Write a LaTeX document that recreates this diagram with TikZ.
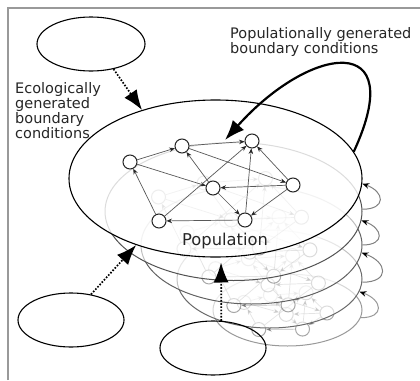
\documentclass[tikz,border=0pt]{standalone}
\usepackage{fontspec}
\setmainfont{DejaVu Sans}
\usetikzlibrary{arrows.meta,shapes.geometric}

\tikzset{
  netnode/.style={circle, draw=black!85, fill=white, minimum size=14pt, inner sep=0pt, line width=1pt},
  netedge/.style={draw=black!65, line width=0.7pt, -{Stealth[length=5.5pt,width=4.5pt,black!85]}},
  layerell/.style={ellipse, fill=white, fill opacity=0.6, line width=1pt, inner sep=0pt},
  bigell/.style={ellipse, draw=black, fill=white, fill opacity=0.8, line width=1.1pt, inner sep=0pt, minimum width=293pt, minimum height=157pt},
  smallell/.style={ellipse, draw=black, line width=1.1pt, inner sep=0pt, minimum width=108pt, minimum height=54pt},
  dotarrow/.style={line width=1.7pt, dash pattern=on 1.6pt off 1.6pt, -{Latex[length=20pt,width=15pt]}},
  thickarrow/.style={line width=2.2pt, -{Latex[length=20pt,width=15pt]}},
  loopedge/.style={line width=1pt, -{Stealth[length=7pt,width=5.5pt,black]}},
  lbl/.style={font=\fontsize{14.5}{15}\selectfont, inner sep=0pt, text=black!85, align=left}
}

\newcommand{\netgraph}[1]{%
  \node[netnode] (#1A) at (130,162) {};
  \node[netnode] (#1B) at (182,146) {};
  \node[netnode] (#1C) at (252,141) {};
  \node[netnode] (#1D) at (213,188) {};
  \node[netnode] (#1E) at (293,185) {};
  \node[netnode] (#1F) at (159,221) {};
  \node[netnode] (#1G) at (245,220) {};
  \draw[netedge] (#1A) -- (#1B);
  \draw[netedge] (#1B) -- (#1C);
  \draw[netedge] (#1B) -- (#1E);
  \draw[netedge] (#1A) -- (#1D);
  \draw[netedge] (#1D) -- (#1B);
  \draw[netedge] (#1F) -- (#1C);
  \draw[netedge] (#1F) -- (#1A);
  \draw[netedge] (#1E) -- (#1C);
  \draw[netedge] (#1E) -- (#1D);
  \draw[netedge] (#1G) -- (#1C);
  \draw[netedge] (#1D) -- (#1G);
  \draw[netedge] (#1E) -- (#1G);
  \draw[netedge] (#1G) -- (#1F);
}

% #1 name, #2 cx, #3 cy, #4 width, #5 height, #6 xscale, #7 yscale, #8 stroke colour
\newcommand{\layerdraw}[8]{%
  \node[layerell, draw=#8, minimum width=#4pt, minimum height=#5pt] (#1) at (#2,#3) {};
  \begin{scope}[shift={(#2,#3)}, xscale=#6, yscale=#7, shift={(-215.5,-178.5)}, opacity=0.4]
    \netgraph{#1}
  \end{scope}
}

\begin{document}
\begin{tikzpicture}[x=1pt, y=-1pt]
\useasboundingbox (0,0) rectangle (420,380);

% stacked fading layers (bottom first)
\layerdraw{L4}{287.5}{310}{149}{72}{0.509}{0.459}{black!40}
\layerdraw{L3}{269.5}{279}{185}{98}{0.631}{0.624}{black!58}
\layerdraw{L2}{251.5}{245}{221}{118}{0.754}{0.752}{black!62}
\layerdraw{L1}{233.5}{211.5}{257}{138}{0.877}{0.879}{black!68}

% main population ellipse
\node[bigell] (main) at (215.5,178.5) {};
\netgraph{m}

% loops between layers
\draw[loopedge, draw=black!50] (L1.1) to[out=0, in=-20, looseness=2.4] (main.-2);
\draw[loopedge, draw=black!50] (L2.0) to[out=0, in=-20, looseness=2.4] (L1.-4);
\draw[loopedge, draw=black!50] (L3.-2) to[out=0, in=-20, looseness=2.4] (L2.-4);
\draw[loopedge, draw=black!40] (L4.-6) to[out=0, in=-20, looseness=2.4] (L3.-8);

% outside ellipses
\node[smallell] (eTL) at (91,44) {};
\node[smallell, minimum width=106pt] (eBL) at (71,320) {};
\node[smallell, minimum width=106pt] (eBM) at (213,348) {};

\draw[dotarrow] (eTL.-48) -- (main.137);
\draw[dotarrow] (eBL.52) -- (main.220);
\draw[dotarrow, shorten >=5pt] (eBM.73) -- (main.-86);

% populationally generated feedback arrow
\coordinate (popTip) at (225,140);
\draw[thickarrow] (main.11) .. controls (410,30) and (310,45) .. (popTip);

% texts
\node[lbl, anchor=north west] (popText) at (230,27) {Populationally generated\\boundary conditions};
\node[lbl, anchor=north west] (ecoText) at (15,82) {Ecologically\\generated\\boundary\\conditions};
\node[font=\fontsize{16.3}{18}\selectfont, inner sep=0pt, text=black!85, anchor=base] (popLabel) at (225,245) {Population};

% frame
\draw[black!40, line width=2pt] (8,380) -- (8,8) -- (420,8);
\end{tikzpicture}
\end{document}
